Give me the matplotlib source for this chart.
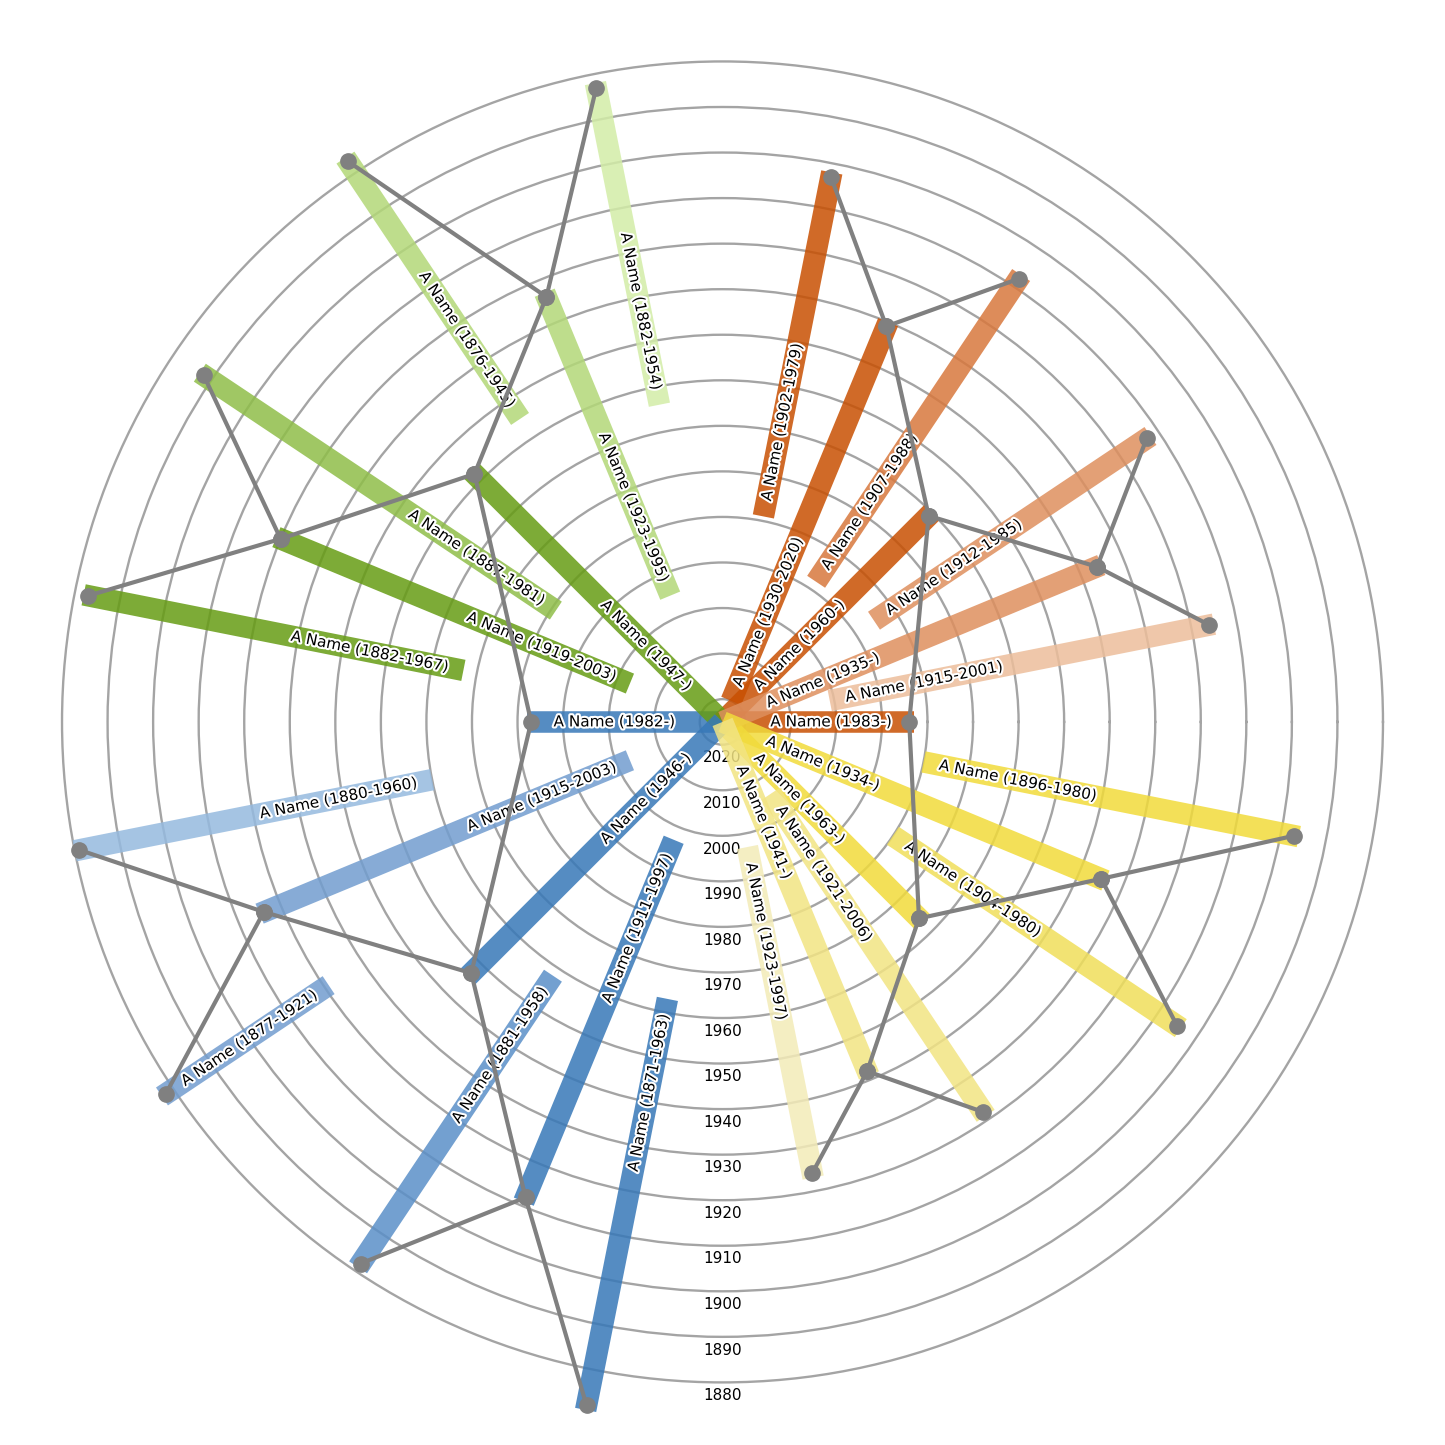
import numpy as np
import matplotlib
matplotlib.use("Agg")
import matplotlib.pyplot as plt
import matplotlib.patheffects as pe
from matplotlib.colors import to_rgb

# ---------------- data ----------------
names = ["A Name"] * 30
births = [1983, 1982, 1960, 1963, 1947, 1946, 1930, 1935, 1934, 1941, 1919, 1923, 1911, 1915,
          1902, 1907, 1912, 1915, 1896, 1904, 1921, 1923, 1882, 1887, 1876, 1882, 1871, 1881,
          1877, 1880]
deaths = [None, None, None, None, None, None, 2020, None, None, None, 2003, 1995, 1997, 2003,
          1979, 1988, 1985, 2001, 1980, 1980, 2006, 1997, 1967, 1981, 1945, 1954, 1963, 1958,
          1921, 1960]
fathers = [2, 5, 6, 8, 10, 12, 14, 16, 18, 20, 22, 24, 26, 28] + [None] * 16
mothers = [3, 4, 7, 9, 11, 13, 15, 17, 19, 21, 23, 25, 27, 29] + [None] * 16
roots = [0, 1]
year_ticks = list(range(1880, 2021, 10))
lineage_hues = {2: "orange", 3: "yellow", 4: "green", 5: "blue"}

# ---------------- style ----------------
palettes = {
    "orange": ["#d06a28", "#de8c5a", "#e3a076", "#f0c8aa"],
    "yellow": ["#f3e058", "#f2e473", "#f4e896", "#f5eec3"],
    "green":  ["#7dab37", "#a0c864", "#bede8c", "#daf0b4"],
    "blue":   ["#558cc3", "#73a0d0", "#87acd6", "#a5c4e4"],
}
ALPHA = 0.85
CENTER_YEAR = 2025
LIVING_BAR_END = 2025
LIVING_LABEL_END = 2018
LABEL_PAD = 3.5
TICK_PAD = 2.9
DOT_SHIFT = 1.0
MAXGEN = 4


def base_color(hexcol):
    t = np.array(to_rgb(hexcol))
    b = 1 - (1 - t) / ALPHA
    return tuple(np.clip(b, 0, 1))


# layout from tree structure
n = len(births)
angle = [None] * n
gen = [None] * n
for i, r in enumerate(roots):
    angle[r] = 180.0 * i
    gen[r] = 1
stack = list(roots)
while stack:
    p = stack.pop()
    step = 45.0 / 2 ** (gen[p] - 1)
    if fathers[p] is not None:
        f = fathers[p]; angle[f] = angle[p] + step; gen[f] = gen[p] + 1; stack.append(f)
    if mothers[p] is not None:
        m = mothers[p]; angle[m] = angle[p] - step; gen[m] = gen[p] + 1; stack.append(m)

# colours: hue from grandparent lineage, level from maternal steps
hue = [None] * n
level = [0] * n
for g2, h in lineage_hues.items():
    hue[g2] = h
    level[g2] = 0
    st = [g2]
    while st:
        p = st.pop()
        if fathers[p] is not None:
            f = fathers[p]; hue[f] = h; level[f] = level[p]; st.append(f)
        if mothers[p] is not None:
            m = mothers[p]; hue[m] = h
            level[m] = level[p] + 2 ** (MAXGEN - gen[m]); st.append(m)
for r in roots:
    hue[r] = hue[fathers[r]]
    level[r] = 0

# ---------------- figure ----------------
fig = plt.figure(figsize=(14.45, 14.45), dpi=100)
ax = fig.add_axes([0.0114, 0.0118, 0.9772, 0.9772], projection="polar")
ax.set_ylim(CENTER_YEAR, 1870)
ax.set_yticks(year_ticks)
ax.set_yticklabels([])
ax.set_xticks([])
ax.yaxis.grid(True, color="#a4a4a4", linewidth=1.7)
ax.spines["polar"].set_visible(False)

for y in year_ticks:
    ax.text(np.deg2rad(270), y - TICK_PAD, str(y), ha="center", va="center",
            fontsize=11, color="black", zorder=1)

for i in range(n):
    th = np.deg2rad(angle[i])
    end = deaths[i] if deaths[i] is not None else LIVING_BAR_END
    col = base_color(palettes[hue[i]][level[i]])
    ax.plot([th, th], [births[i], end], color=col, alpha=ALPHA, lw=15.5,
            solid_capstyle="butt", zorder=2, clip_on=False)

    label = f"{names[i]} ({births[i]}-{deaths[i] if deaths[i] is not None else ''})"
    lab_end = (deaths[i] if deaths[i] is not None else LIVING_LABEL_END) - LABEL_PAD
    deg = ((angle[i] + 180) % 360) - 180
    if -90 < deg < 90:
        rot, ha = deg, "left"
    else:
        rot, ha = deg - 180 if deg > 0 else deg + 180, "right"
    ax.text(th, lab_end, label, rotation=rot, rotation_mode="anchor", ha=ha, va="center",
            fontsize=11, color="black", zorder=3,
            path_effects=[pe.withStroke(linewidth=3, foreground="white")])

for i in range(n):
    pts = []
    if fathers[i] is not None:
        pts.append(fathers[i])
    pts.append(i)
    if mothers[i] is not None:
        pts.append(mothers[i])
    if len(pts) > 1:
        ax.plot([np.deg2rad(angle[k]) for k in pts], [births[k] + DOT_SHIFT for k in pts],
                color="#808080", lw=3, marker="o", ms=11, zorder=4, clip_on=False)

fig.savefig("out.png", dpi=100)
